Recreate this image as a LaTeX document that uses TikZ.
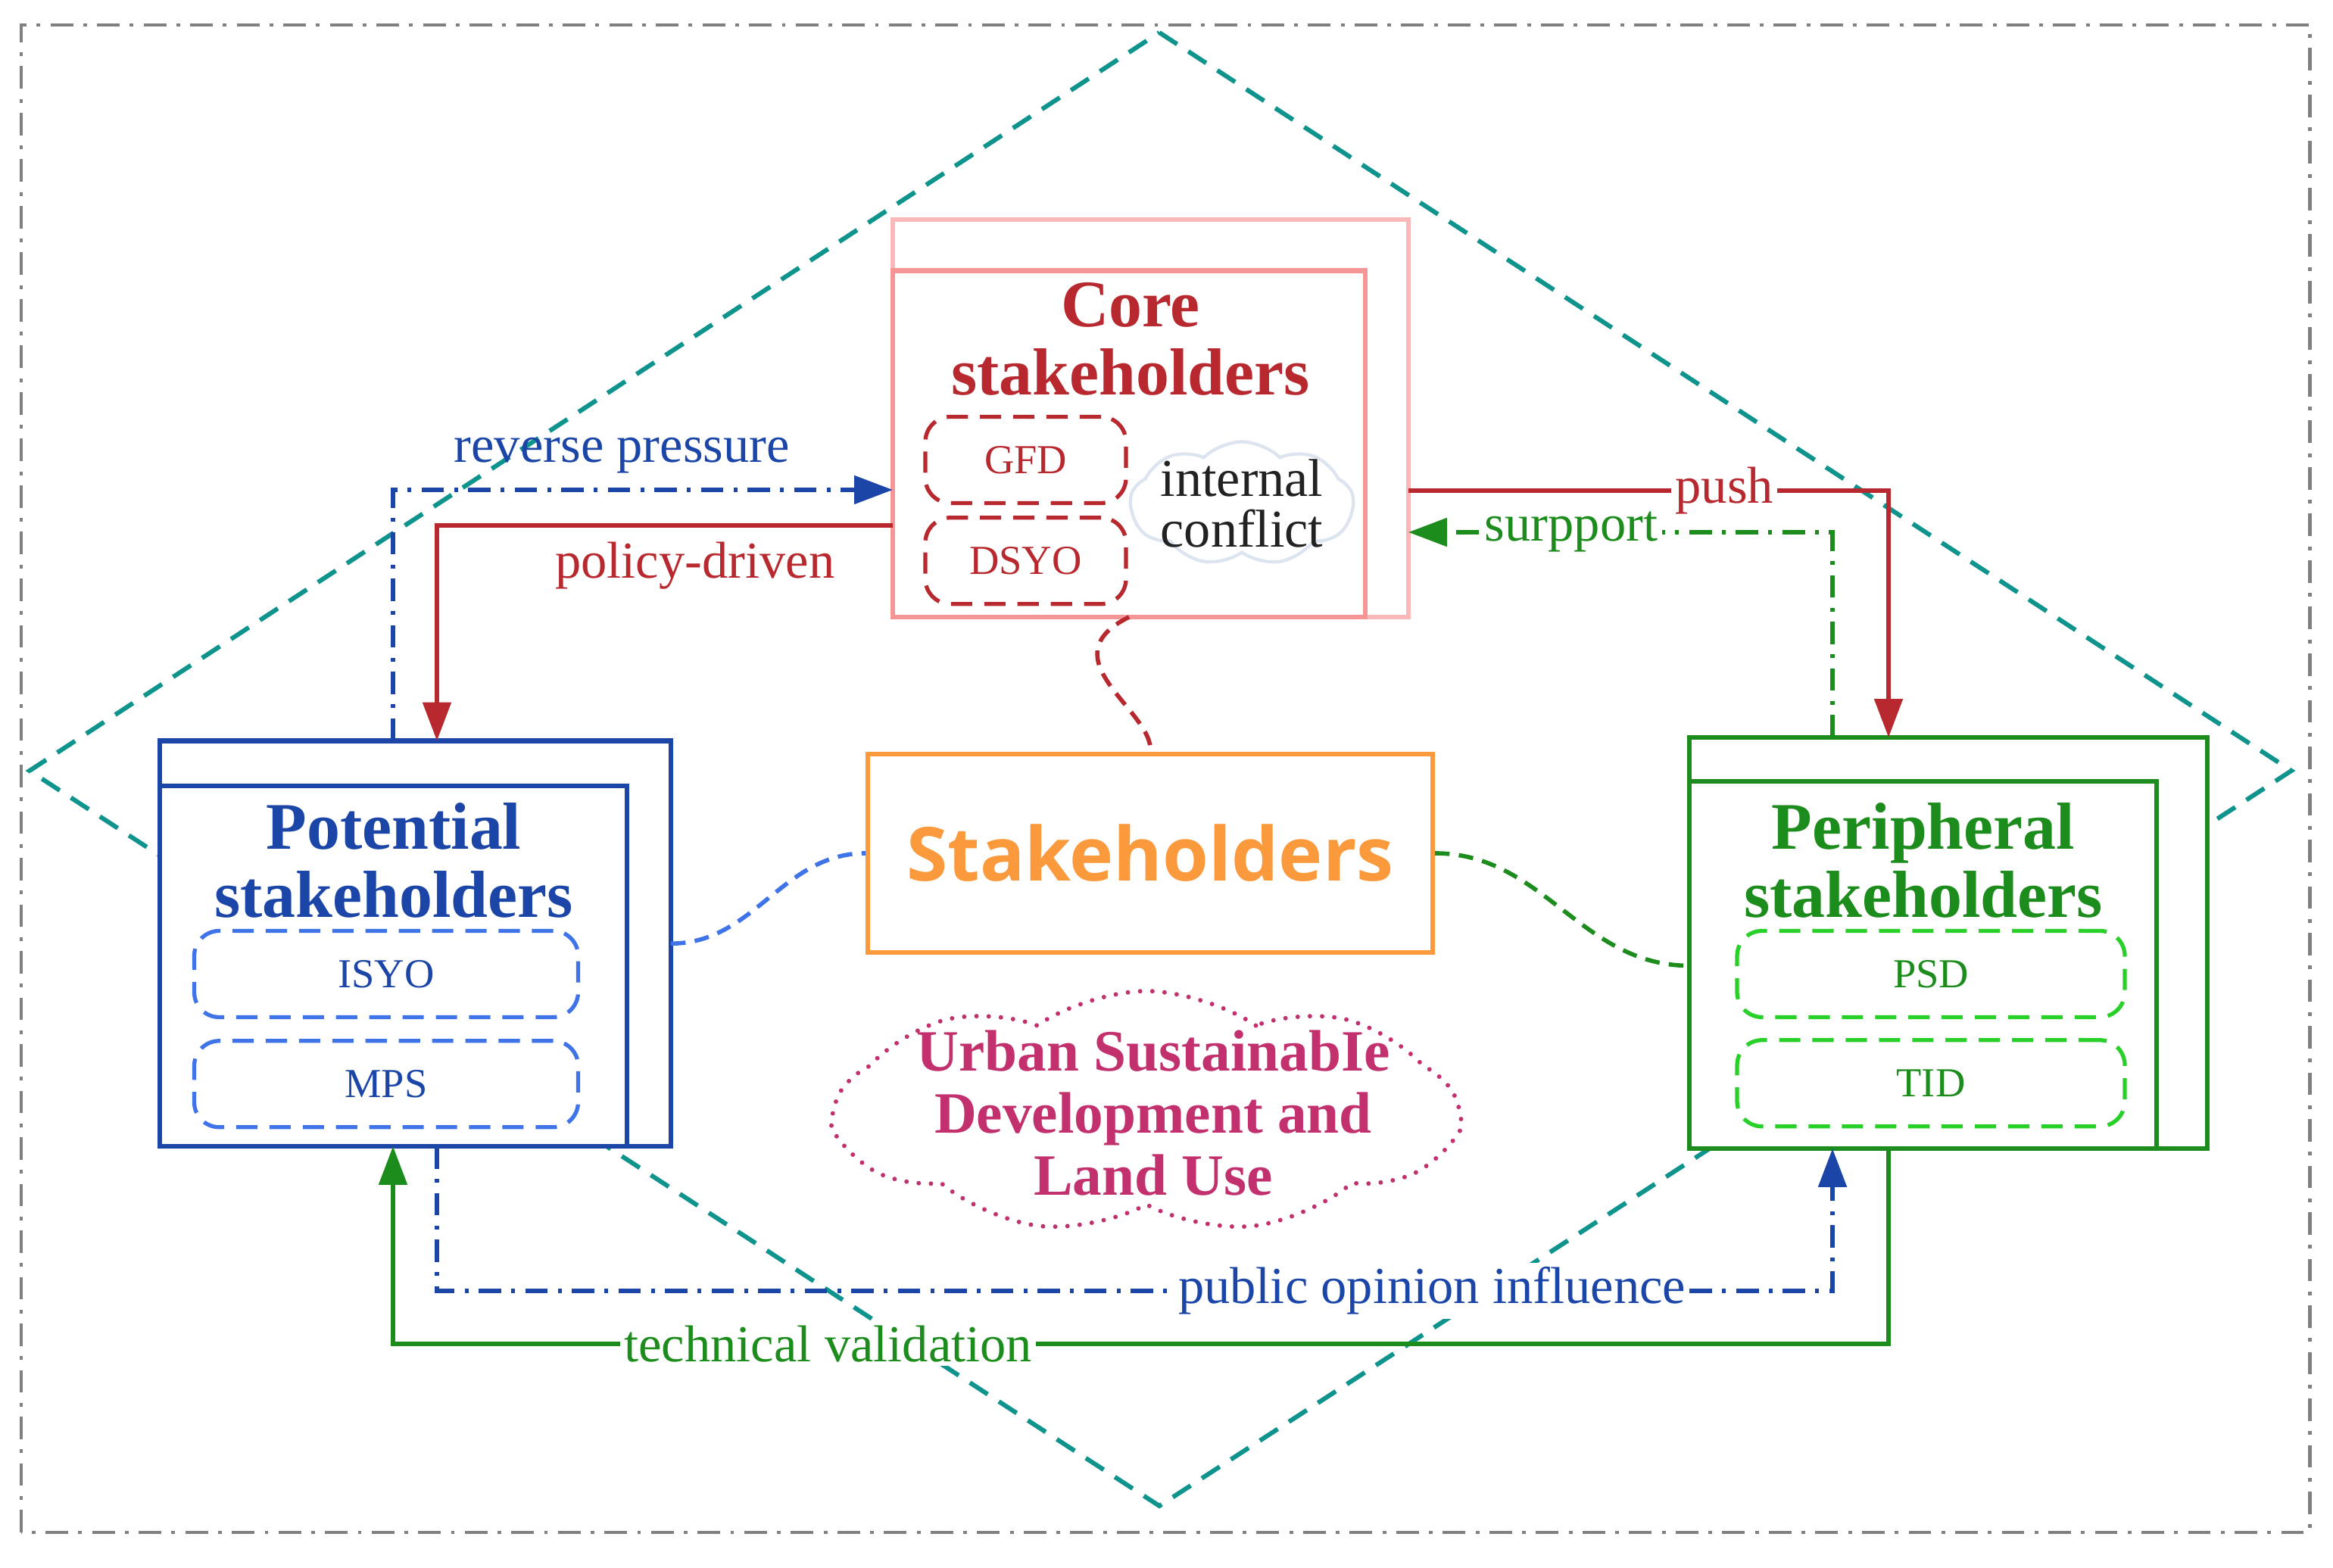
\documentclass[tikz,border=0pt]{standalone}
\usepackage{fontspec}
\setmainfont{Liberation Serif}
\newfontfamily\hubfont{Open Sans}
\usepackage{tikz}
\usetikzlibrary{positioning, arrows.meta, shapes.symbols}
\definecolor{sRed}{HTML}{B8292F}
\definecolor{sRedLine}{HTML}{F59595}
\definecolor{sRedPale}{HTML}{FBB8B8}
\definecolor{sBlue}{HTML}{1B46A8}
\definecolor{sBlueLine}{HTML}{3F73E8}
\definecolor{sGreen}{HTML}{1C8C1C}
\definecolor{sGreenLine}{HTML}{2AD02A}
\definecolor{sOrange}{HTML}{FA9A3C}
\definecolor{sTeal}{HTML}{0E948C}
\definecolor{sMagenta}{HTML}{C2306E}
\definecolor{nInk}{HTML}{222222}
\definecolor{nLine}{HTML}{808080}
\definecolor{nCloud}{HTML}{DCE5EF}
\tikzset{
  groupbox/.style={draw, fill=white, line width=1.8pt, outer sep=0pt, inner sep=0pt},
  subbox/.style={draw, dash pattern=on 8pt off 4.5pt, line width=1.5pt, rounded corners=0.33cm,
    minimum width=5.07cm, minimum height=1.14cm, font=\fontsize{15.5}{16}\selectfont},
  title/.style={align=center, font=\fontsize{25}{25.6}\selectfont\bfseries},
  flowlbl/.style={font=\fontsize{19.5}{20}\selectfont, inner sep=1.5pt},
  link/.style={line width=1.6pt, ->},
  ddline/.style={dash pattern=on 8.5pt off 3.8pt on 1.4pt off 3.8pt},
  wavy/.style={line width=1.6pt, dash pattern=on 5.5pt off 3.5pt},
}

\begin{document}
\begin{tikzpicture}[>={Triangle[length=14.5pt,width=10.5pt]}]
  \useasboundingbox (0,0) rectangle (30.81,20.70);
  \draw[nLine, line width=1.4pt, ddline] (0.28,0.46) rectangle (30.50,20.37);
  \draw[sTeal, line width=1.7pt, dash pattern=on 8pt off 5pt]
    (15.31,20.27) -- (30.26,10.52) -- (15.31,0.81) -- (0.39,10.52) -- cycle;

  \node[groupbox, draw=sRedPale, minimum width=6.81cm, minimum height=5.25cm] (core) at (15.195,15.175) {};
  \node[groupbox, draw=sRedLine, minimum width=6.24cm, minimum height=4.575cm, anchor=south west] (coreIn) at (core.south west) {};
  \node[title, text=sRed] (coreT) at (14.93,16.22) {Core\\stakeholders};
  \node[subbox, draw=sRed, text=sRed, minimum width=2.65cm] (gfd) at (13.545,14.625) {GFD};
  \node[subbox, draw=sRed, text=sRed, minimum width=2.65cm, below=0.14cm of gfd] (dsyo) {DSYO};
  \node[cloud, cloud puffs=9, cloud puff arc=90, cloud ignores aspect, draw=nCloud, line width=1.2pt,
    minimum width=2.95cm, minimum height=1.63cm] (conf) at (16.40,14.05) {};
  \node[align=center, text=nInk, font=\fontsize{20}{19}\selectfont] (confT) at (conf) {internal\\conflict};

  \node[groupbox, draw=sBlue, minimum width=6.75cm, minimum height=5.355cm] (pot) at (5.485,8.2375) {};
  \node[groupbox, draw=sBlue, minimum width=6.17cm, minimum height=4.76cm, anchor=south west] (potIn) at (pot.south west) {};
  \node[title, text=sBlue] (potT) at (5.20,9.34) {Potential\\stakeholders};
  \node[subbox, draw=sBlueLine, text=sBlue] (isyo) at (5.10,7.835) {ISYO};
  \node[subbox, draw=sBlueLine, text=sBlue, below=0.26cm of isyo] (mps) {MPS};

  \node[groupbox, draw=sGreen, minimum width=6.84cm, minimum height=5.43cm] (peri) at (25.73,8.245) {};
  \node[groupbox, draw=sGreen, minimum width=6.17cm, minimum height=4.85cm, anchor=south west] (periIn) at (peri.south west) {};
  \node[title, text=sGreen] (periT) at (25.40,9.34) {Peripheral\\stakeholders};
  \node[subbox, draw=sGreenLine, text=sGreen, minimum width=5.12cm] (psd) at (25.50,7.835) {PSD};
  \node[subbox, draw=sGreenLine, text=sGreen, minimum width=5.12cm, below=0.25cm of psd] (tid) {TID};

  \node[draw=sOrange, line width=1.7pt, fill=white, minimum width=7.46cm, minimum height=2.62cm,
    text=sOrange, font=\hubfont\bfseries\fontsize{28}{30}\selectfont] (hub) at (15.19,9.43) {Stakeholders};
  \node[cloud, cloud puffs=9, cloud puff arc=70, cloud ignores aspect, draw=sMagenta, line width=1.7pt, line cap=round,
    dash pattern=on 0pt off 4.6pt, minimum width=8.2cm, minimum height=3.2cm] (urban) at (15.14,6.01) {};
  \node[align=center, text=sMagenta, font=\fontsize{22}{23.3}\selectfont\bfseries] (urbanT) at (15.23,6.00)
    {Urban SustainabIe\\Development and\\Land Use};

  \draw[wavy, sRed] (coreIn.south) .. controls (13.8,12.0) and (15.25,11.3) .. (hub.north);
  \draw[wavy, sBlueLine] (pot.east) to[out=0, in=180] (hub.west);
  \draw[wavy, sGreen] (hub.east) to[out=0, in=180] ([yshift=-0.3cm]peri.west);

  \coordinate (revC) at (5.19,14.23);
  \coordinate (polC) at (5.77,13.76);
  \coordinate (pushC) at (24.94,14.22);
  \coordinate (supC) at (24.20,13.67);
  \coordinate (pubL) at (5.77,3.65);
  \coordinate (pubR) at (24.20,3.65);
  \coordinate (techL) at (5.19,2.95);
  \coordinate (techR) at (24.94,2.95);

  \draw[link, sBlue, ddline] (pot.north -| revC) |- node[flowlbl, text=sBlue, pos=0.729, above=4pt] {reverse pressure} (core.west |- revC);
  \draw[link, sRed] (core.west |- polC) -| node[flowlbl, text=sRed, pos=0.217, below=4pt] {policy-driven} (pot.north -| polC);
  \draw[link, sRed] (core.east |- pushC) -| node[flowlbl, text=sRed, fill=white, pos=0.329] {push} (peri.north -| pushC);
  \draw[link, sGreen, ddline] (peri.north -| supC) |- node[flowlbl, text=sGreen, fill=white, pos=0.808] {surpport} (core.east |- supC);
  \draw[link, sBlue, ddline] (pot.south -| pubL) -- (pubL)
    -- node[flowlbl, text=sBlue, fill=white, pos=0.713] {public opinion influence} (pubR) -- (peri.south -| pubR);
  \draw[link, sGreen] (peri.south -| techR) -- (techR)
    -- node[flowlbl, text=sGreen, fill=white, pos=0.709] {technical validation} (techL) -- (pot.south -| techL);
\end{tikzpicture}
\end{document}
